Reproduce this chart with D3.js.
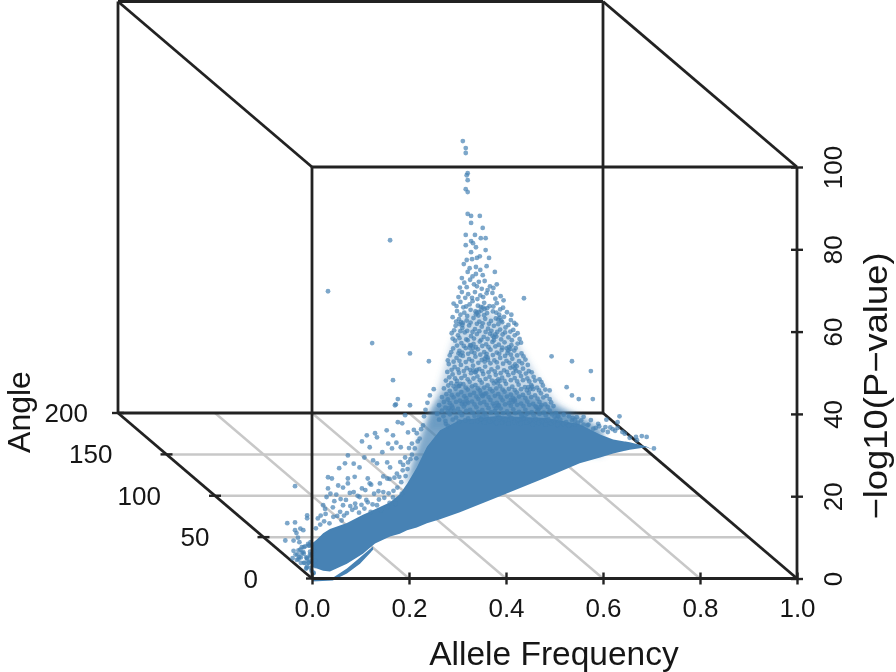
<!DOCTYPE html>
<html>
<head>
<meta charset="utf-8">
<script src="https://cdn.jsdelivr.net/npm/d3@7"></script>
<style>
  body { margin: 0; background: #fff; }
  text { font-family: "Liberation Sans", Arial, sans-serif; fill: #141414; }
</style>
</head>
<body>
<div id="chart"></div>
<script>
var afTicks = [0, 0.2, 0.4, 0.6, 0.8, 1.0],
    angleTicks = [0, 50, 100, 150, 200],
    pTicks = [0, 20, 40, 60, 80, 100];

// outline of the solid part of the cloud, read against the front axes
var bodyAf  = [0, .01, .023, .037, .072, .105, .13, .161, .181, .196, .216, .237, .264, .305, .381, .484, .552, .594, .621, .655, .69, .70],
    bodyTop = [8.5, 9.5, 11, 12, 13.5, 15.5, 16.8, 18.5, 20.5, 23, 27, 32, 36, 38.5, 39.5, 39, 37.5, 35, 33.8, 33.1, 32.1, 31.5],
    bodyLow = [2.9, 2.4, 1.9, 1.7, 3.6, 6, 8.5, 10.2, 10.9, 11.7, 12.4, 13.4, 14.4, 16.1, 19.7, 24.6, 28, 29.4, 30.4, 31.3, 31.9, 31.4];

// thin crescent under the body
var crescentAf  = [0, .043, .072, .099, .126],
    crescentTop = [.2, .2, 2.4, 5.1, 7.8],
    crescentLow = [-.7, -.5, 1.2, 3.6, 7];

// lighter speckled parts above the body
var hazeAf  = [.196, .206, .225, .245, .27, .32, .38, .44, .5, .56, .6],
    hazeTop = [24, 28, 35, 41, 45, 47, 46.5, 45, 42, 39, 36],
    hazeLow = [22, 24, 26, 28, 30, 30, 30, 30, 30, 30, 30];
var thinHazeAf  = [.24, .26, .285, .31, .35, .39, .43, .47, .51, .55],
    thinHazeTop = [38, 46, 56, 64, 66, 63, 56, 48, 42, 38],
    thinHazeLow = [36, 36, 36, 36, 36, 36, 36, 36, 36, 36];

// [af, p]
var peakPoints = [[.311,106.3],[.317,104.6],[.317,103.4],[.321,98.5],[.319,98],[.321,96.8],[.317,94.6],[.321,93.9],[.321,88.6],[.328,88.1],[.346,88.1],[.328,86.4],[.352,85.2],[.317,83.5],[.336,83.5],[.348,82.7],[.358,82.7],[.328,82],[.332,81.5],[.338,80.5],[.317,81],[.358,79.8],[.365,77.9],[.328,79.3],[.319,77.4],[.33,77.6],[.34,77.9],[.346,78.3],[.313,76.4],[.338,75.7],[.36,75.9],[.377,74.5],[.321,74.5],[.338,74],[.352,73.7],[.309,73],[.356,72.3],[.334,71.5],[.34,71],[.381,71.5],[.319,70.8],[.367,71],[.309,69.6],[.336,69.6],[.36,69.3],[.389,68.6],[.437,68.1],[.322,69.1],[.347,68.8],[.372,69.4],[.33,68.2],
[.314,71.9],[.326,72.6],[.344,72.1],[.35,70.4],[.362,70.1],[.374,70.6],[.302,68.4],[.316,68.2],[.341,67.9],[.353,68.4],[.378,68],[.395,67.6],[.325,75.4],[.347,75],[.331,73.4],[.305,70.7]];

var shoulderPoints = [[.292,66.8],[.306,67.2],[.318,66.1],[.331,67.4],[.342,66.3],[.355,67],[.366,66.2],[.381,66.9],[.394,65.8],[.299,65],[.314,64.6],[.327,65.3],[.338,64.2],[.349,65.1],[.361,64.5],[.373,64.9],[.386,64.1],[.402,64.7],[.29,63.5],[.303,63],[.319,62.7],[.333,63.3],[.345,62.4],[.357,63.1],[.369,62.6],[.379,63.2],[.392,62.3],[.41,62.8],[.296,61.4],[.31,60.9],[.324,61.5],[.336,60.6],[.35,61.2],[.363,60.7],[.375,61.4],[.388,60.5],[.399,61],[.415,60.4],[.421,61.7],
[.288,59.6],[.301,59.1],[.315,59.8],[.328,58.9],[.34,59.4],[.354,58.7],[.367,59.5],[.38,58.8],[.393,59.3],[.405,58.6],[.418,59.1],[.428,58.2],[.295,57.8],[.308,57.2],[.321,57.9],[.333,57],[.346,57.6],[.359,56.9],[.372,57.5],[.385,56.8],[.397,57.4],[.411,56.7],[.424,57.1],[.291,55.9],[.304,55.3],[.317,56],[.329,55.1],[.342,55.7],[.355,55],[.368,55.6],[.381,54.9],[.391,55.5],[.403,54.8],[.417,55.4],[.432,54.7],[.284,54.2],[.298,53.6],[.311,54.1],[.324,53.3],[.337,53.9],[.35,53.1],[.362,53.7],[.376,53],[.388,53.6],[.401,52.9],[.413,53.4],[.427,52.8],[.44,53.2],
[.282,52.1],[.294,51.4],[.307,51.9],[.319,51.1],[.332,51.7],[.345,50.9],[.357,51.5],[.37,50.8],[.383,51.3],[.396,50.6],[.409,51.2],[.421,50.5],[.435,51],[.447,50.4],[.279,50.2],[.29,49.6],[.303,50],[.315,49.3],[.328,49.9],[.341,49.1],[.353,49.7],[.366,49],[.379,49.5],[.392,48.8],[.405,49.4],[.418,48.7],[.431,49.2],[.444,48.6],[.457,49],[.469,48.4],[.276,48.1],[.287,47.5],[.299,48],[.312,47.2],[.325,47.8],[.337,47],[.35,47.6],[.362,46.9],[.375,47.4],[.388,46.7],[.4,47.3],[.413,46.6],[.426,47.1],[.439,46.5],[.452,47],[.464,46.4],[.476,46.9],
[.272,46.2],[.284,45.6],[.296,46.1],[.308,45.3],[.321,45.9],[.334,45.1],[.346,45.7],[.359,45],[.372,45.5],[.384,44.8],[.397,45.4],[.41,44.7],[.422,45.2],[.435,44.6],[.447,45.1],[.46,44.5],[.472,45],[.484,44.4],[.268,44.1],[.28,43.5],[.292,44],[.305,43.2],[.318,43.8],[.33,43],[.343,43.6],[.355,42.9],[.368,43.4],[.381,42.7],[.393,43.3],[.406,42.6],[.418,43.1],[.431,42.5],[.444,43],[.456,42.4],[.469,42.9],[.481,42.3],[.493,42.8],[.262,42.1],[.275,41.5],[.288,42],[.301,41.2],[.313,41.8],[.326,41],[.339,41.6],[.351,40.9],[.364,41.4],[.377,40.7],[.389,41.3],[.402,40.6],[.415,41.1],[.427,40.5],[.44,41],[.453,40.4],[.465,40.9],[.478,40.3],[.49,40.8],[.503,40.2],[.258,40],[.271,39.4],[.284,39.9],[.297,39.1],[.309,39.7],[.322,38.9],[.335,39.5],[.348,38.8],[.36,39.3],[.373,38.6],[.386,39.2],[.398,38.5],[.411,39],[.424,38.4],[.436,38.9],[.449,38.3],[.461,38.8],[.474,38.2],[.487,38.7],[.499,38.1],[.512,38.6],[.524,38],[.536,38.5],[.548,37.9],[.56,37.4]];

// second reading of the same region, the gaps between the first one
var shoulderFill = [[.298,66.2],[.312,65.9],[.325,66.6],[.348,66],[.361,65.7],[.374,66.1],[.388,65.4],[.306,64.1],[.32,63.8],[.343,63.9],[.355,64],[.38,64.6],[.396,63.6],[.411,64.1],[.297,62.4],[.311,62.1],[.327,62.2],[.34,61.9],[.352,62],[.365,61.9],[.384,61.8],[.405,61.6],[.417,62.1],[.293,60.3],[.306,60.1],[.32,60.2],[.331,59.9],[.345,60.1],[.358,59.9],[.37,60.2],[.382,59.9],[.398,59.8],[.409,60],[.424,59.6],
[.29,58.3],[.304,58.4],[.318,58.1],[.334,58.3],[.349,58],[.362,58.2],[.375,57.9],[.39,58.1],[.412,57.9],[.431,57.3],[.299,56.6],[.313,56.5],[.326,56.7],[.338,56.2],[.351,56.5],[.364,56.2],[.378,56.4],[.392,56.1],[.406,56.2],[.42,56],[.287,55],[.31,54.9],[.322,54.6],[.335,54.8],[.347,54.4],[.36,54.6],[.373,54.3],[.386,54.6],[.398,54.1],[.41,54.4],[.423,54.2],[.436,54],[.28,53],[.292,52.7],[.304,52.9],[.317,52.6],[.33,52.9],[.343,52.4],[.356,52.7],[.368,52.3],[.381,52.5],[.394,52.2],[.407,52.4],[.419,52],[.433,52.3],[.445,51.9],
[.288,50.7],[.301,50.8],[.313,50.4],[.326,50.7],[.338,50.2],[.351,50.4],[.364,50.1],[.377,50.3],[.389,49.9],[.402,50.2],[.415,49.9],[.428,50.1],[.441,49.8],[.453,50.1],[.283,48.9],[.295,48.6],[.308,48.7],[.321,48.4],[.333,48.6],[.346,48.2],[.358,48.5],[.371,48.1],[.384,48.4],[.397,48],[.41,48.2],[.423,47.9],[.435,48.2],[.448,47.9],[.46,48.1],[.473,47.7],[.281,46.9],[.292,46.7],[.304,46.8],[.317,46.4],[.33,46.7],[.342,46.2],[.355,46.4],[.367,46],[.38,46.2],[.393,45.9],[.406,46.1],[.418,45.8],[.431,46],[.443,45.7],[.456,46],[.468,45.7],[.481,45.9],
[.277,44.8],[.288,44.6],[.301,44.7],[.314,44.3],[.326,44.6],[.339,44.2],[.351,44.5],[.364,44.1],[.377,44.4],[.389,44],[.402,44.2],[.414,43.9],[.427,44.2],[.44,43.8],[.452,44.1],[.465,43.7],[.477,44],[.49,43.6],[.272,42.9],[.284,42.6],[.297,42.9],[.309,42.4],[.322,42.7],[.335,42.3],[.347,42.6],[.36,42.2],[.373,42.5],[.385,42.1],[.398,42.3],[.41,42],[.423,42.2],[.436,41.9],[.448,42.2],[.461,41.8],[.473,42.1],[.486,41.7],[.498,41.9],[.268,40.8],[.28,40.6],[.293,40.8],[.305,40.4],[.318,40.7],[.331,40.3],[.343,40.5],[.356,40.1],[.369,40.4],[.381,40],[.394,40.2],[.406,39.9],[.419,40.2],[.432,39.8],[.444,40.1],[.457,39.7],[.469,40],[.482,39.6],[.495,39.9],[.507,39.5],[.519,39.8],[.53,39.4],[.262,38.6],[.275,38.3],[.29,38.6],[.303,38.2],[.316,38.5],[.329,38.1],[.342,38.3],[.355,37.9],[.367,38.2],[.38,37.8],[.392,38],[.405,37.7],[.418,38],[.43,37.6],[.443,37.9],[.455,37.5],[.468,37.8],[.481,37.4],[.493,37.7],[.506,37.3],[.518,37.6],[.53,37.2],[.542,37.5],[.555,38.4],[.568,37.2],[.58,36.4]];

// tighter knots of points that break up the rows above
var shoulderKnots = [[.337,64.9],[.34,64.6],[.344,64.8],[.352,65.9],[.356,65.5],[.384,62.9],[.387,63.4],[.39,62.7],[.304,61.8],[.307,62.3],[.31,61.6],[.372,59],[.375,58.6],[.378,59.3],[.325,56.1],[.328,56.6],[.332,56],[.401,55.9],[.405,55.4],[.409,55.8],[.302,54.7],[.306,54.3],[.356,53.4],[.359,53.9],[.363,53.1],[.414,51.5],[.418,51],[.422,51.6],[.333,50.6],[.336,50.1],[.34,50.7],[.379,47.9],[.383,47.4],[.387,48],[.298,47.2],[.302,46.7],[.306,47.3],[.446,46.5],[.45,46],[.454,46.6],[.348,44.9],[.352,44.3],[.356,44.8],[.41,43.4],[.414,42.9],[.418,43.5],[.312,42.9],[.316,42.4],[.32,43],[.463,41.6],[.467,41.1],[.471,41.7],[.376,41.9],[.38,41.4],[.384,42],[.282,41.4],[.286,40.9],[.29,41.5],[.432,39.5],[.436,39],[.44,39.6],[.5,39.3],[.504,38.8],[.508,39.4],[.344,39.3],[.348,38.8],[.352,39.4],[.276,37.6],[.28,37.1],[.538,39],[.542,38.6],[.546,39.2]];

var sparsePoints = [[.161,82.2],[.033,69.8],[.124,57.2],[.202,54.7],[.241,52.8],[.167,48.2],[.494,54],[.536,52.8],[.575,50.4],[.525,46.5],[.536,44.5],[.55,43.6],[.579,43.6],[.634,39.4],[.177,43.6],[.173,42.3],[.251,46],[.243,44.5],[.49,45.7],
[.13,35.3],[.134,34.3],[.113,34.8],[.103,33.3],[.119,31.9],[.167,34.8],[.198,35.5],[.216,35.3],[.177,38],[.171,42.1],[.202,42.1],[.157,32.8],[.165,31.6],[.183,31.9],[.206,32.8],[.074,29.9],[.126,28.7],[.134,28],[.155,28.2],[.161,27],[.198,28.2],[.068,28],[.056,26.8],[.033,24.6],[.041,24.3],[.074,24.3],[.074,23.1],[.115,24.3],[.119,23.1],[.14,23.1],[.155,24.3],[.175,25.5],[.187,26.3],[.054,22.6],[.064,22.1],[.033,21.9],[.103,21.9],[.023,17.8],[.043,17.3],[.064,17.8],[.089,18.2],[.115,18.5],[.134,17.8],[.155,17.3],[.167,19.7],
[.03,19.8],[.05,20.4],[.078,20.8],[.094,20.1],[.128,20.6],[.147,21],[.176,22.1],[.185,20.6],[.012,14.6],[.028,15.7],[.036,13.4],[.052,15.2],[.061,14.1],[.072,15.9],[.083,16.7],[.097,16],[.108,17],[.121,16.2],[.142,16.6],[.16,18.4],[.172,18.1],[.184,23.4],[.193,24.9],[.206,30.1],[.215,29.2],[.222,34],[.229,37.2],[.234,41],
[.008,12.2],[.017,13.1],[.025,13.9],[.044,15],[.058,16.2],[.066,15.3],[.079,17.6],[.09,17.2],[.102,17.9],[.112,19.1],[.125,18],[.138,19.2],[.149,19.6],[.158,20.7],[.168,21.3],[.18,24.7],[.188,27.6],[.197,26.6],[.203,29],[.212,31.6],[.218,33.3],[.225,36.3],[.231,39.4],[.238,42.7],[.21,36.1],[.2,31.7],[.192,29.4],[.182,28.3],[.17,24.5],[.16,24.2],[.147,24.8],[.137,21.2],[.122,22.8],[.11,21.5],[.098,19.8],[.086,21],[.07,19.1],[.059,19.3],[.046,18.8],[.038,20.6],[.027,16.9],[.018,15.3],[.088,24.7],[.098,27],[.086,27.9],[.108,29.4],[.145,30.7],[.154,36],[.186,37.7],[.174,33],[.192,39.7]];

var tipPoints = [[.56,39.3],[.575,38.5],[.59,37.6],[.605,36.8],[.62,36.3],[.63,36.6],[.645,35.2],[.607,38.6],[.63,38],[.668,34.4],[.68,34.6],[.69,34.4],[.705,31.6],[.67,33.6],[.655,34.2],[.61,35.6],[.57,37.4],[.585,36.6],[.6,36],[.592,37],[.615,36.7],[.625,35.9],[.64,35.6]];

// [af, angle, p] - the small cluster in front of the 0.0 corner
var nearZeroPoints = [[.036,30,6.1],[.009,30,7.4],[.025,30,7.6],[.025,30,5.7],[.042,30,5.7],[.05,30,9.3],[.05,30,8.6],[.005,30,3.2],[.025,30,16.4],
[.004,22,.5],[.008,21,1.6],[.002,20,2.7],[.01,19,.9],[.006,18,2.2],[.012,18,3.4],[.003,17,1.1],[.009,16,1.9],[.004,16,3.6],[.013,15,4.6],[.007,15,.8],[.002,14,2.4],[.011,14,3.2],[.005,13,5],[.009,13,1.2],[.014,12,2.3],[.003,12,3.8],[.008,11,5.6],[.012,11,.7],[.005,10,1.8],[.01,10,3],[.002,10,4.4],[.013,9,6.2],[.006,9,.6],[.009,8,2.2],[.004,8,3.5],[.012,8,4.9],[.007,7,6.6],[.003,7,1.2],[.011,6,.7],[.005,6,2.7],[.009,6,4.2],[.014,5,5.7],[.002,5,7.4],[.008,5,1.6],[.006,4,3.4],[.011,4,.5],[.004,4,5],[.009,3,6.8],[.013,3,2.4],[.003,3,8.2],[.007,2,1],[.01,2,4],[.005,2,5.6],[.012,19,5],[.015,22,5.5],[.018,25,6],[.01,24,4.4]];

var width = 896, height = 672;

var x = d3.scaleLinear().domain([0, 1]).range([312, 797]);
var z = d3.scaleLinear().domain([0, 100]).range([578.5, 167]);
// how far one step of the depth axis moves a point on screen
var depthX = d3.scaleLinear().domain([0, 200]).range([0, -194]);
var depthY = d3.scaleLinear().domain([0, 200]).range([0, -165.5]);

function px(af, angle, p) { return x(af) + depthX(angle); }
function py(af, angle, p) { return z(p) + depthY(angle); }

var svg = d3.select("#chart").append("svg")
    .attr("width", width)
    .attr("height", height);

var defs = svg.append("defs");
var filter = defs.append("filter")
    .attr("id", "soft")
    .attr("x", "-5%").attr("y", "-5%").attr("width", "110%").attr("height", "110%");
filter.append("feGaussianBlur").attr("stdDeviation", 0.6);
var hazeBlur = defs.append("filter").attr("id", "haze");
hazeBlur.append("feGaussianBlur").attr("stdDeviation", 3);

var g = svg.append("g").attr("filter", "url(#soft)");

// floor grid
var gridColor = "#c8c8c8";
g.selectAll(".grid-af")
    .data(afTicks.filter(function(d) { return d > 0 && d < 1; }))
  .enter().append("line")
    .attr("x1", function(d) { return px(d, 0, 0); })
    .attr("y1", function(d) { return py(d, 0, 0); })
    .attr("x2", function(d) { return px(d, 200, 0); })
    .attr("y2", function(d) { return py(d, 200, 0); })
    .attr("stroke", gridColor).attr("stroke-width", 2.5);

g.selectAll(".grid-angle")
    .data(angleTicks.filter(function(d) { return d > 0 && d < 200; }))
  .enter().append("line")
    .attr("x1", function(d) { return px(0, d, 0); })
    .attr("y1", function(d) { return py(0, d, 0); })
    .attr("x2", function(d) { return px(1, d, 0); })
    .attr("y2", function(d) { return py(1, d, 0); })
    .attr("stroke", gridColor).attr("stroke-width", 2.5);

// the box: [af, angle, p] at both ends of an edge
var backEdges = [
  [[0, 200, 0], [0, 200, 100]],
  [[0, 200, 100], [1, 200, 100]],
  [[1, 200, 100], [1, 200, 0]],
  [[0, 200, 0], [1, 200, 0]],
  [[0, 200, 100], [0, 0, 100]],
  [[1, 200, 100], [1, 0, 100]],
  [[0, 200, 0], [0, 0, 0]],
  [[1, 200, 0], [1, 0, 0]]
];
var frontEdges = [
  [[0, 0, 0], [0, 0, 100]],
  [[0, 0, 100], [1, 0, 100]],
  [[1, 0, 100], [1, 0, 0]],
  [[0, 0, 0], [1, 0, 0]]
];

function drawEdges(list) {
  g.append("g").selectAll("line")
      .data(list)
    .enter().append("line")
      .attr("x1", function(d) { return px(d[0][0], d[0][1], d[0][2]); })
      .attr("y1", function(d) { return py(d[0][0], d[0][1], d[0][2]); })
      .attr("x2", function(d) { return px(d[1][0], d[1][1], d[1][2]); })
      .attr("y2", function(d) { return py(d[1][0], d[1][1], d[1][2]); })
      .attr("stroke", "#222").attr("stroke-width", 2.8);
}
drawEdges(backEdges);

// cloud
var blue = "#4682b4";
var area = d3.area()
    .x(function(d) { return x(d[0]); })
    .y0(function(d) { return z(d[2]); })
    .y1(function(d) { return z(d[1]); });

g.append("path")
    .attr("d", area(d3.zip(thinHazeAf, thinHazeTop, thinHazeLow)))
    .attr("fill", blue).attr("fill-opacity", 0.3)
    .attr("filter", "url(#haze)");

g.append("path")
    .attr("d", area(d3.zip(hazeAf, hazeTop, hazeLow)))
    .attr("fill", blue).attr("fill-opacity", 0.7)
    .attr("filter", "url(#haze)");

var flatPoints = peakPoints.concat(shoulderPoints, shoulderFill, shoulderKnots, sparsePoints, tipPoints);

g.append("path")
    .attr("d", area(d3.zip(bodyAf, bodyTop, bodyLow)))
    .attr("fill", blue);

g.append("path")
    .attr("d", area(d3.zip(crescentAf, crescentTop, crescentLow)))
    .attr("fill", blue);

g.append("g").selectAll("circle")
    .data(flatPoints)
  .enter().append("circle")
    .attr("cx", function(d) { return px(d[0], 0, d[1]); })
    .attr("cy", function(d) { return py(d[0], 0, d[1]); })
    .attr("r", 2.4)
    .attr("fill", blue).attr("fill-opacity", 0.7);

g.append("g").selectAll("circle")
    .data(nearZeroPoints)
  .enter().append("circle")
    .attr("cx", function(d) { return px(d[0], d[1], d[2]); })
    .attr("cy", function(d) { return py(d[0], d[1], d[2]); })
    .attr("r", 2.4)
    .attr("fill", blue).attr("fill-opacity", 0.7);

drawEdges(frontEdges);

// axes
var xAxis = g.append("g")
    .attr("transform", "translate(0," + z(0) + ")")
    .call(d3.axisBottom(x).tickValues(afTicks).tickFormat(d3.format(".1f")).tickSize(6));
xAxis.select(".domain").remove();
xAxis.selectAll("line").attr("y1", -6).attr("stroke", "#222").attr("stroke-width", 2.4);
xAxis.selectAll("text")
    .attr("y", 38).attr("dy", null)
    .attr("font-size", 26).attr("font-family", null);

var pAxis = g.append("g")
    .attr("transform", "translate(" + x(1) + ",0)")
    .call(d3.axisRight(z).tickValues(pTicks).tickSize(6));
pAxis.select(".domain").remove();
pAxis.selectAll("line").attr("x1", -6).attr("stroke", "#222").attr("stroke-width", 2.4);
pAxis.selectAll("text")
    .attr("x", null).attr("dy", null)
    .attr("text-anchor", "middle")
    .attr("transform", "translate(45,0) rotate(-90)")
    .attr("font-size", 26).attr("font-family", null);

// depth axis
var angleTickGroup = g.append("g").selectAll("g")
    .data(angleTicks)
  .enter().append("g")
    .attr("transform", function(d) { return "translate(" + px(0, d, 0) + "," + py(0, d, 0) + ")"; });
angleTickGroup.append("line")
    .attr("x1", -6).attr("x2", 6)
    .attr("stroke", "#222").attr("stroke-width", 2.4);
angleTickGroup.append("text")
    .attr("x", function(d) { return d === 200 ? -30 : -54; })
    .attr("y", 9)
    .attr("text-anchor", "end")
    .attr("font-size", 26)
    .text(function(d) { return d; });

// titles
g.append("text")
    .attr("x", 554).attr("y", 665)
    .attr("text-anchor", "middle")
    .attr("font-size", 33.5)
    .text("Allele Frequency");

g.append("text")
    .attr("transform", "translate(30,412) rotate(-90)")
    .attr("text-anchor", "middle")
    .attr("font-size", 32)
    .text("Angle");

g.append("text")
    .attr("transform", "translate(887,386) rotate(-90)")
    .attr("text-anchor", "middle")
    .attr("font-size", 33)
    .attr("textLength", 267)
    .attr("lengthAdjust", "spacingAndGlyphs")
    .text("\u2212log10(P\u2212value)");
</script>
</body>
</html>
